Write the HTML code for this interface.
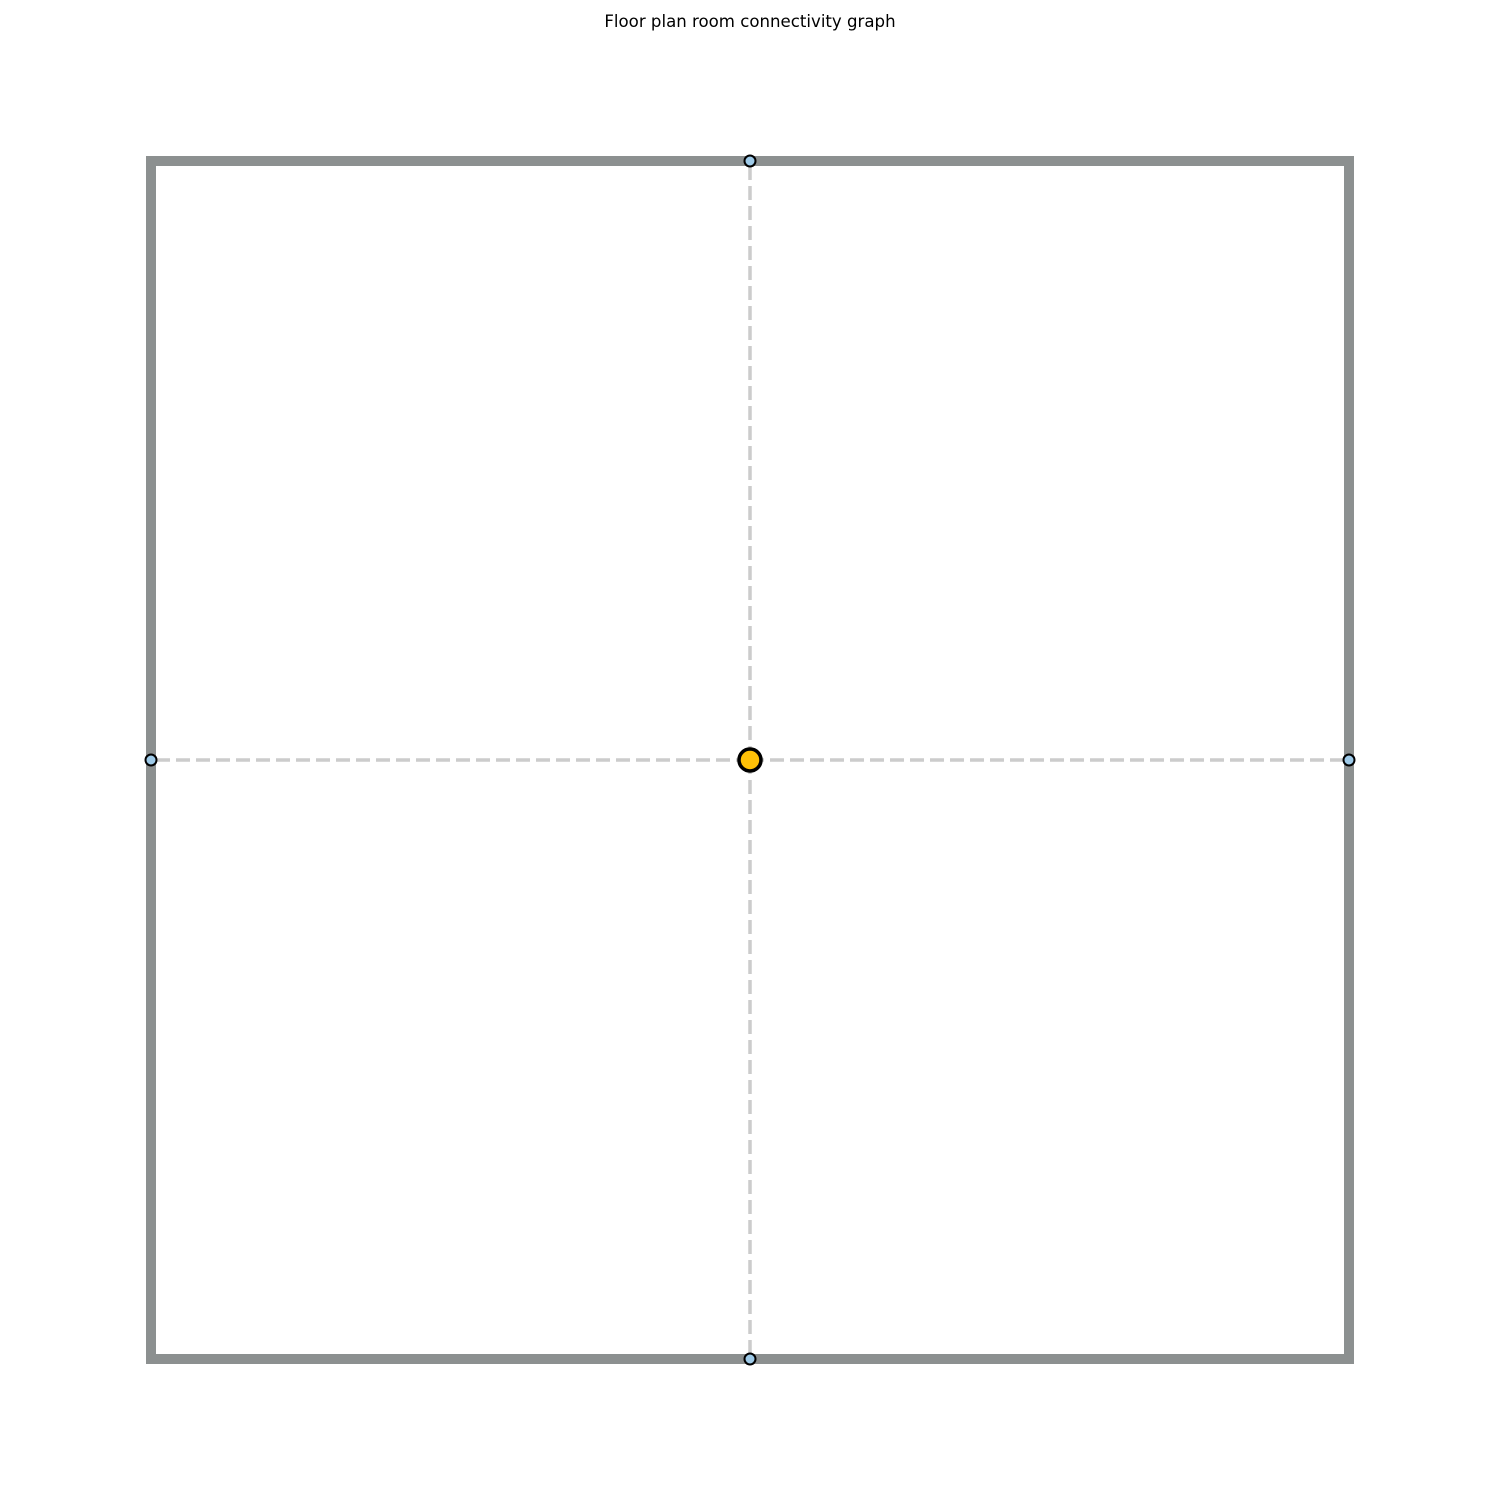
<!DOCTYPE html>
<html><head><meta charset="utf-8"><style>
html,body{margin:0;padding:0;background:#fff;}
svg{display:block;}
</style></head><body>
<svg id="chart" width="1500" height="1500" viewBox="0 0 1500 1500" xmlns="http://www.w3.org/2000/svg">
<rect width="1500" height="1500" fill="#fff"/>
<text x="750" y="27" text-anchor="middle" font-family="'DejaVu Sans','Liberation Sans',sans-serif" font-size="16.6" fill="#000">Floor plan room connectivity graph</text>
<g id="walls"></g>
<g id="edges"></g>
<g id="nodes"></g>
</svg>
<script>
// data (plan units, 0..2 in each direction)
const wallX = [0, 2, 2, 0];
const wallY = [0, 0, 2, 2];
const nodeNames = ['hub', 'north', 'south', 'west', 'east'];
const nodeX = [1, 1, 1, 0, 2];
const nodeY = [1, 2, 0, 1, 1];
const edgeFrom = [0, 0, 0, 0];
const edgeTo = [1, 2, 3, 4];

const NS = 'http://www.w3.org/2000/svg';
const x0 = 151, x1 = 1349, yTop = 161, yBot = 1359;
function sx(v){ return x0 + (v / 2) * (x1 - x0); }
function sy(v){ return yBot - (v / 2) * (yBot - yTop); }

const walls = document.getElementById('walls');
const wall = document.createElementNS(NS, 'polygon');
wall.setAttribute('points', wallX.map((v, i) => sx(v) + ',' + sy(wallY[i])).join(' '));
wall.setAttribute('fill', 'none');
wall.setAttribute('stroke', '#8c9090');
wall.setAttribute('stroke-width', '10');
wall.setAttribute('stroke-linejoin', 'miter');


walls.appendChild(wall);

const edges = document.getElementById('edges');
edgeFrom.forEach((f, i) => {
  const t = edgeTo[i];
  const l = document.createElementNS(NS, 'line');
  l.setAttribute('x1', sx(nodeX[f])); l.setAttribute('y1', sy(nodeY[f]));
  l.setAttribute('x2', sx(nodeX[t])); l.setAttribute('y2', sy(nodeY[t]));
  l.setAttribute('stroke', '#cccccc');
  l.setAttribute('stroke-width', '3.5');
  l.setAttribute('stroke-dasharray', '14 6');
  
  
  edges.appendChild(l);
});

const nodes = document.getElementById('nodes');
nodeX.forEach((v, i) => {
  const c = document.createElementNS(NS, 'circle');
  const hub = i === 0;
  c.setAttribute('cx', sx(v)); c.setAttribute('cy', sy(nodeY[i]));
  c.setAttribute('r', hub ? 11 : 5.5);
  c.setAttribute('fill', hub ? '#ffc107' : '#9ecae8');
  c.setAttribute('stroke', '#000');
  c.setAttribute('stroke-width', hub ? 3.5 : 2);
  
  
  nodes.appendChild(c);
});
</script>
</body></html>
